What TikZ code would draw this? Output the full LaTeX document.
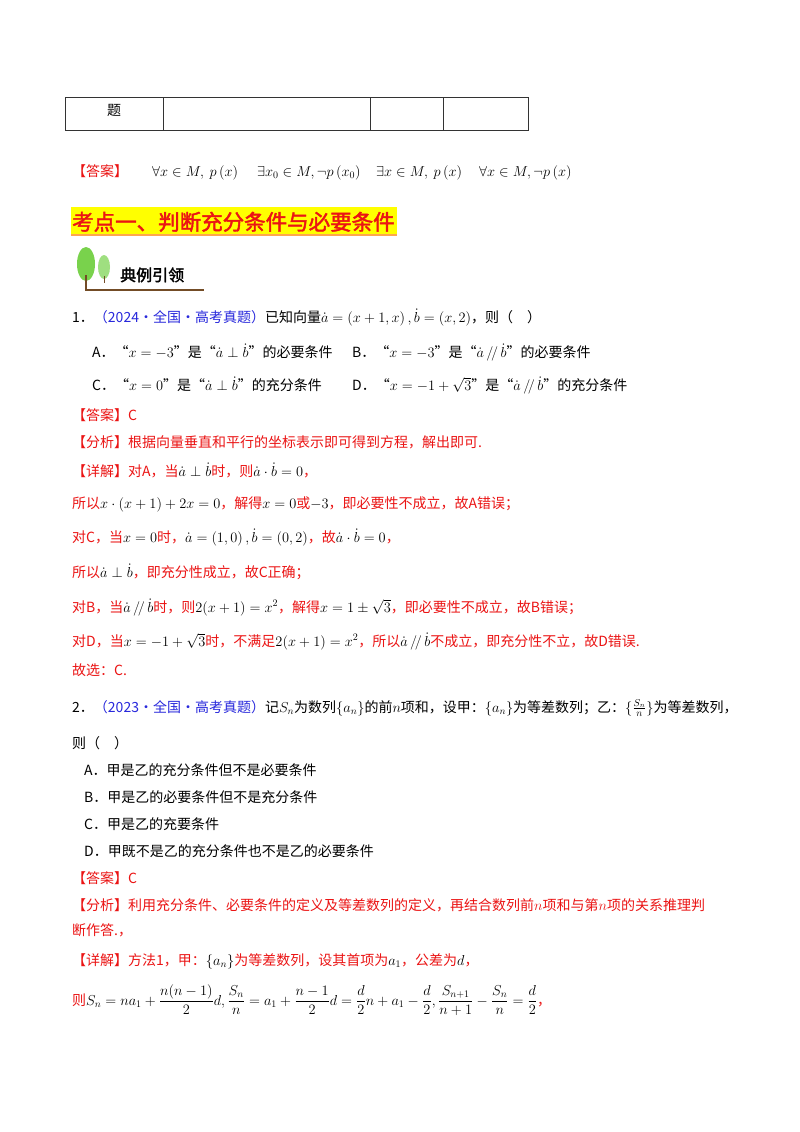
\documentclass[tikz,border=0pt]{standalone}
\usepackage{amsmath,amssymb}
\usepackage{fontspec}
\setmainfont{Noto Sans CJK SC}
\newfontfamily\boldcjk[FakeBold=2]{Noto Sans CJK SC}
\definecolor{ansred}{RGB}{235,20,20}
\definecolor{srcblue}{RGB}{40,40,220}
\definecolor{hlyel}{RGB}{255,255,0}
\newcommand\va{\dot{a}}
\newcommand\vb{\dot{b}}
\begin{document}
\begin{tikzpicture}[x=1pt,y=-1pt,
  txt/.style={anchor=base west,inner sep=0pt,font=\fontsize{14}{16}\selectfont},
  red/.style={txt,text=ansred},
  cell/.style={draw=black!80,line width=1pt}]
\useasboundingbox[fill=white] (0,0) rectangle (800,1132);
% table
\draw[cell] (65,97) rectangle (528,130);
\foreach \x in {163,370,443} \draw[cell] (\x,97) -- (\x,130);
\node[txt] (ti) at (107,115) {题};
% answer line
\node[red] (a0) at (72,176) {【答案】};
\node[txt] (a1) at (152,176) {$\forall x\in M,\ p\left(x\right)$};
\node[txt] (a2) at (257,176) {$\exists x_0\in M,\neg p\left(x_0\right)$};
\node[txt] (a3) at (376,176) {$\exists x\in M,\ p\left(x\right)$};
\node[txt] (a4) at (479,176) {$\forall x\in M,\neg p\left(x\right)$};
% heading
\fill[hlyel] (71,207) rectangle (397,236);
\fill[orange!70] (71,234) rectangle (397,236);
\node[red,font=\fontsize{21.5}{24}\selectfont\boldcjk] (h) at (72,230) {考点一、判断充分条件与必要条件};
% icon
\fill[green!50!olive!70] (86,264) ellipse (9 and 17);
\fill[green!50!olive!50] (104,267) ellipse (6 and 12);
\draw[brown!60!black,line width=1.2pt] (86,275) -- (86,290) -- (204,290);
\draw[brown!60!black,line width=1pt] (104,276) -- (104,283);
\node[txt,font=\fontsize{16}{18}\selectfont\boldcjk] (ic) at (120,281) {典例引领};
% Q1
\node[txt] (q1) at (72,322) {1．\textcolor{srcblue}{（2024·全国·高考真题）}已知向量$\va=\left(x+1,x\right),\vb=\left(x,2\right)$，则（\quad）};
\node[txt] (qa) at (92,357) {A．“$x=-3$”是“$\va\perp\vb$”的必要条件};
\node[txt] (qb) at (352,357) {B．“$x=-3$”是“$\va\,/\!/\,\vb$”的必要条件};
\node[txt] (qc) at (92,390) {C．“$x=0$”是“$\va\perp\vb$”的充分条件};
\node[txt] (qd) at (352,390) {D．“$x=-1+\sqrt3$”是“$\va\,/\!/\,\vb$”的充分条件};
\node[red] (r1) at (72,420) {【答案】C};
\node[red] (r2) at (72,447) {【分析】根据向量垂直和平行的坐标表示即可得到方程，解出即可.};
\node[red] (r3) at (72,476) {【详解】对A，当$\color{black}\va\perp\vb$时，则$\color{black}\va\cdot\vb=0$，};
\node[red] (r4) at (72,508) {所以$\color{black}x\cdot(x+1)+2x=0$，解得$\color{black}x=0$或$\color{black}-3$，即必要性不成立，故A错误；};
\node[red] (r5) at (72,542) {对C，当$\color{black}x=0$时，$\color{black}\va=\left(1,0\right),\vb=\left(0,2\right)$，故$\color{black}\va\cdot\vb=0$，};
\node[red] (r6) at (72,577) {所以$\color{black}\va\perp\vb$，即充分性成立，故C正确；};
\node[red] (r7) at (72,612) {对B，当$\color{black}\va\,/\!/\,\vb$时，则$\color{black}2(x+1)=x^2$，解得$\color{black}x=1\pm\sqrt3$，即必要性不成立，故B错误；};
\node[red] (r8) at (72,646) {对D，当$\color{black}x=-1+\sqrt3$时，不满足$\color{black}2(x+1)=x^2$，所以$\color{black}\va\,/\!/\,\vb$不成立，即充分性不立，故D错误.};
\node[red] (r9) at (72,675) {故选：C.};
% Q2
\node[txt] (q2) at (72,712) {2．\textcolor{srcblue}{（2023·全国·高考真题）}记$S_n$为数列$\left\{a_n\right\}$的前$n$项和，设甲：$\left\{a_n\right\}$为等差数列；乙：$\{\frac{S_n}{n}\}$为等差数列，};
\node[txt] (q2b) at (72,748) {则（\quad）};
\node[txt] (o1) at (84,775) {A．甲是乙的充分条件但不是必要条件};
\node[txt] (o2) at (84,802) {B．甲是乙的必要条件但不是充分条件};
\node[txt] (o3) at (84,829) {C．甲是乙的充要条件};
\node[txt] (o4) at (84,856) {D．甲既不是乙的充分条件也不是乙的必要条件};
\node[red] (s1) at (72,883) {【答案】C};
\node[red] (s2) at (72,910) {【分析】利用充分条件、必要条件的定义及等差数列的定义，再结合数列前$n$项和与第$n$项的关系推理判};
\node[red] (s3) at (72,935) {断作答.，};
\node[red] (s4) at (72,965) {【详解】方法1，甲：$\color{black}\left\{a_n\right\}$为等差数列，设其首项为$\color{black}a_1$，公差为$\color{black}d$，};
\node[red] (s5) at (72,1005) {则$\color{black}S_n=na_1+\dfrac{n(n-1)}{2}d,\dfrac{S_n}{n}=a_1+\dfrac{n-1}{2}d=\dfrac{d}{2}n+a_1-\dfrac{d}{2},\dfrac{S_{n+1}}{n+1}-\dfrac{S_n}{n}=\dfrac{d}{2}$，};
\end{tikzpicture}
\end{document}
